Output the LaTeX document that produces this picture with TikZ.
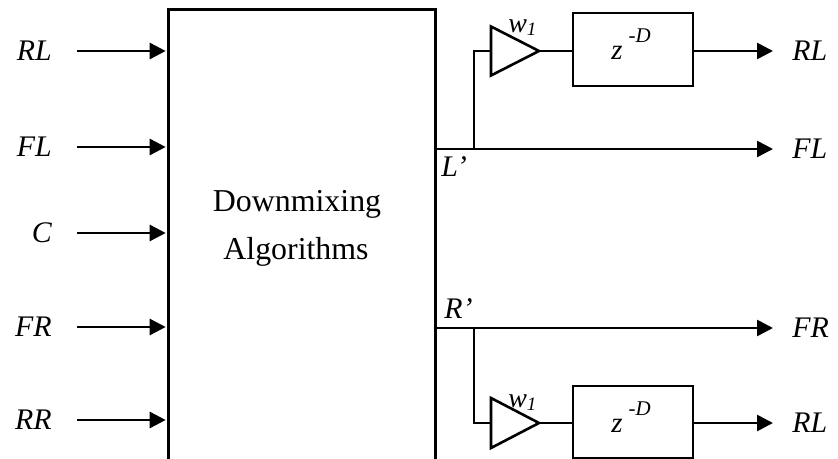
\documentclass[tikz,border=0pt]{standalone}
\usepackage{fontspec}
\setmainfont{Liberation Serif}
\usetikzlibrary{arrows.meta,calc}
\newcommand\labfont{\fontsize{30}{32}\selectfont\itshape}
\newcommand\bigfont{\fontsize{32}{36}\selectfont}
\newcommand\subfont{\fontsize{19}{20}\selectfont\itshape}
\begin{document}
\begin{tikzpicture}[x=1bp,y=-1bp,line width=2.6bp,
  arr/.style={-{Triangle[length=16bp,width=16bp]}},
  inlab/.style={inner xsep=24bp,inner ysep=0pt,font=\labfont,anchor=east},
  outlab/.style={inner xsep=18bp,inner ysep=0pt,font=\labfont,anchor=west},
  dly/.style={draw,minimum width=120bp,minimum height=73bp,inner sep=0pt},
  txt/.style={inner sep=0pt}]
\useasboundingbox (0,0) rectangle (838,459);
% main block (open at the bottom)
\node[minimum width=264bp,minimum height=448bp,inner sep=0pt] (dm) at (302,235) {};
\draw (dm.south west) -- (dm.north west) -- (dm.north east) -- (dm.south east);
\node[txt,anchor=base,font=\bigfont] (dmt1) at (297,212) {Downmixing};
\node[txt,anchor=base,font=\bigfont] (dmt2) at (296,260) {Algorithms};
% inputs
\node[inlab] (iRL) at (77,51) {RL};
\node[inlab] (iFL) at (77,147) {FL};
\node[inlab] (iC)  at (77,233) {C};
\node[inlab] (iFR) at (77,327) {FR};
\node[inlab] (iRR) at (77,420) {RR};
\foreach \n in {iRL,iFL,iC,iFR,iRR}
  \draw[arr,shorten >=3bp] (\n.east) -- (dm.west |- \n.east);
% ---- upper branch (L')
\coordinate (Lj) at (434,149);
\coordinate (Lb) at (474,149);
\node[txt,anchor=base west,font=\labfont] (Lp) at (440,177) {L’};
\node[outlab] (oFL) at (773,149) {FL};
\draw[arr] (Lj) -- (oFL.west);
\coordinate (g1in) at (491,51);
\coordinate (g1out) at (539,51);
\draw[line join=miter] ($(g1in)+(0,-24.5)$) -- (g1out) -- ($(g1in)+(0,24.5)$) -- cycle;
\node[txt,anchor=base west] (w1a) at (507,33) {\fontsize{28}{30}\selectfont\itshape w\raisebox{-3bp}{\subfont 1}};
\draw (Lb) |- (g1in);
\node[dly] (d1) at (633,49.5) {};
\node[txt,anchor=base west] (d1t) at (610,60) {\itshape\fontsize{29}{30}\selectfont z\hspace{6bp}\raisebox{17bp}{\subfont\fontsize{21}{22}\selectfont -D}};
\draw (g1out) -- (d1.west |- g1out);
\node[outlab] (oRL1) at (773,51) {RL};
\draw[arr] (d1.east |- oRL1.west) -- (oRL1.west);
% ---- lower branch (R')
\coordinate (Rj) at (434,328);
\coordinate (Rb) at (474,328);
\node[txt,anchor=base west,font=\labfont] (Rp) at (443,319) {R’};
\node[outlab] (oFR) at (773,328) {FR};
\draw[arr] (Rj) -- (oFR.west);
\coordinate (g2in) at (491,423);
\coordinate (g2out) at (539,423);
\draw[line join=miter] ($(g2in)+(0,-25)$) -- (g2out) -- ($(g2in)+(0,25)$) -- cycle;
\node[txt,anchor=base west] (w1b) at (507,407) {\fontsize{28}{30}\selectfont\itshape w\raisebox{-3bp}{\subfont 1}};
\draw (Rb) |- (g2in);
\node[dly,minimum height=72bp] (d2) at (633,422) {};
\node[txt,anchor=base west] (d2t) at (610,432) {\itshape\fontsize{29}{30}\selectfont z\hspace{6bp}\raisebox{17bp}{\subfont\fontsize{21}{22}\selectfont -D}};
\draw (g2out) -- (d2.west |- g2out);
\node[outlab] (oRL2) at (773,423) {RL};
\draw[arr] (d2.east |- oRL2.west) -- (oRL2.west);
\end{tikzpicture}
\end{document}
